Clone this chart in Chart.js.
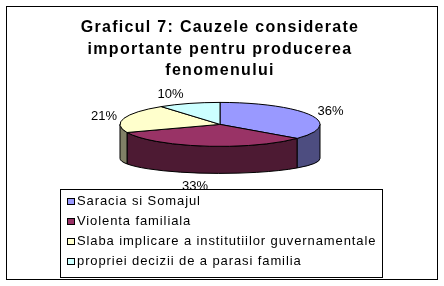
<!DOCTYPE html>
<html>
<head>
<meta charset="utf-8">
<script src="https://cdn.jsdelivr.net/npm/chart.js@4.4.1/dist/chart.umd.min.js"></script>
<style>
  html, body { margin: 0; padding: 0; background: #fff; }
  .chart-container { width: 444px; height: 286px; position: relative; }
</style>
</head>
<body>
<div class="chart-container"><canvas id="pieChart"></canvas></div>
<script>
// Date grafic
const titleLines = ['Graficul 7: Cauzele considerate', 'importante pentru producerea', 'fenomenului'];
const categories = [
    'Saracia si Somajul',
    'Violenta familiala',
    'Slaba implicare a institutiilor guvernamentale',
    'propriei decizii de a parasi familia'
];
const shares = [36, 33, 21, 10];

// Culori
const topColors = ['#9999FF', '#993366', '#FFFFCC', '#CCFFFF'];
const sideColors = ['#4D4D80', '#4D1A33', '#808066', '#668080'];

const FONT = '"Liberation Sans", Arial, sans-serif';
const TILT = 0.22;         // top face squash
const BOTTOM_TILT = 0.15;  // bottom edge squash
const DEPTH = 34;          // side wall height

// wide letter spacing for the title (Chart.js title has no option for it)
const titleSpacing = {
    id: 'titleSpacing',
    beforeDraw(chart) {
        chart.ctx.letterSpacing = '1.3px';
    },
    afterDraw(chart) {
        chart.ctx.letterSpacing = '0px';
    }
};

// 3D pie drawn from the arc elements Chart.js computed
const pie3d = {
    id: 'pie3d',
    beforeDatasetsDraw(chart) {
        const ctx = chart.ctx;
        const arcs = chart.getDatasetMeta(0).data;
        const total = shares.reduce((s, v) => s + v, 0);
        ctx.save();
        ctx.letterSpacing = '0px';
        ctx.lineWidth = 1;
        ctx.strokeStyle = '#000';
        ctx.lineJoin = 'round';

        // side walls (front half only)
        arcs.forEach((arc, i) => {
            const p = arc.getProps(['x', 'y', 'startAngle', 'endAngle', 'outerRadius']);
            const a = Math.max(p.startAngle, 0);
            const b = Math.min(p.endAngle, Math.PI);
            if (b <= a) return;
            const r = p.outerRadius;
            ctx.beginPath();
            ctx.ellipse(p.x, p.y, r, r * TILT, 0, a, b);
            ctx.ellipse(p.x, p.y + DEPTH, r, r * BOTTOM_TILT, 0, b, a, true);
            ctx.closePath();
            ctx.fillStyle = sideColors[i];
            ctx.fill();
            ctx.stroke();
        });

        // top faces
        arcs.forEach((arc, i) => {
            const p = arc.getProps(['x', 'y', 'startAngle', 'endAngle', 'outerRadius']);
            const r = p.outerRadius;
            ctx.beginPath();
            ctx.moveTo(p.x, p.y);
            ctx.ellipse(p.x, p.y, r, r * TILT, 0, p.startAngle, p.endAngle);
            ctx.closePath();
            ctx.fillStyle = topColors[i];
            ctx.fill();
            ctx.stroke();
        });

        // percent labels
        ctx.font = '13px ' + FONT;
        ctx.fillStyle = '#000';
        ctx.textAlign = 'center';
        ctx.textBaseline = 'middle';
        arcs.forEach((arc, i) => {
            const p = arc.getProps(['x', 'y', 'startAngle', 'endAngle', 'outerRadius']);
            const r = p.outerRadius;
            const mid = (p.startAngle + p.endAngle) / 2;
            const c = Math.cos(mid), s = Math.sin(mid);
            const ex = p.x + r * c;
            const ey = s > 0 ? p.y + DEPTH + r * BOTTOM_TILT * s : p.y + r * TILT * s;
            const lx = ex + 20 * Math.max(-1, Math.min(1, 3 * c));
            const ly = ey + 11.5 * s + 1.5;
            ctx.fillText(Math.round(shares[i] / total * 100) + '%', lx, ly);
        });
        ctx.restore();
        return false;
    }
};

// outer frame + boxed legend
const frameLegend = {
    id: 'frameLegend',
    afterDraw(chart) {
        const ctx = chart.ctx;
        ctx.save();
        ctx.letterSpacing = '0px';
        ctx.strokeStyle = '#000';
        ctx.lineWidth = 1;
        ctx.strokeRect(6.5, 6.5, 431, 273);
        ctx.strokeRect(60.5, 189.5, 322, 88);
        ctx.font = '13px ' + FONT;
        ctx.textBaseline = 'alphabetic';
        categories.forEach((name, i) => {
            const base = 205 + i * 20;
            ctx.letterSpacing = '0px';
            ctx.fillStyle = topColors[i];
            ctx.fillRect(67.5, base - 6.5, 7, 6);
            ctx.strokeRect(67.5, base - 6.5, 7, 6);
            ctx.fillStyle = '#000';
            ctx.letterSpacing = '0.9px';
            ctx.fillText(name, 77, base);
        });
        ctx.restore();
    }
};

const chart = new Chart(document.getElementById('pieChart').getContext('2d'), {
    type: 'pie',
    data: {
        labels: categories,
        datasets: [{
            data: shares,
            backgroundColor: topColors,
            borderColor: '#000',
            borderWidth: 1,
            radius: 100
        }]
    },
    options: {
        responsive: true,
        maintainAspectRatio: false,
        animation: false,
        events: [],
        layout: {
            padding: { top: 0, left: 0, right: 4, bottom: 120 }
        },
        plugins: {
            legend: { display: false },
            tooltip: { enabled: false },
            title: {
                display: true,
                text: titleLines,
                color: '#000',
                font: { family: FONT, size: 16, weight: 'bold', lineHeight: 1.35 },
                padding: { top: 17, bottom: 1 }
            }
        }
    },
    plugins: [titleSpacing, pie3d, frameLegend]
});
</script>
</body>
</html>
